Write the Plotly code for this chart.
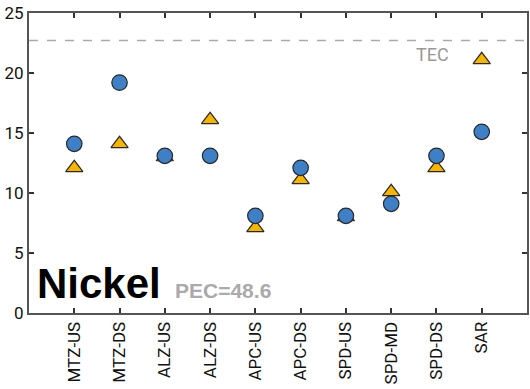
import plotly.graph_objects as go

sites = ["MTZ-US", "MTZ-DS", "ALZ-US", "ALZ-DS", "APC-US", "APC-DS", "SPD-US", "SPD-MD", "SPD-DS", "SAR"]
circle_vals = [14.1, 19.2, 13.1, 13.1, 8.1, 12.1, 8.1, 9.1, 13.1, 15.1]
triangle_vals = [12.1, 14.1, 13.0, 16.1, 7.1, 11.1, 8.0, 10.1, 12.1, 21.1]
tec_value = 22.7
element = "Nickel"
pec_label = "PEC=48.6"
y_ticks = [0, 5, 10, 15, 20, 25]

FONT = "Liberation Sans Narrow, Roboto, sans-serif"
xi = list(range(len(sites)))

fig = go.Figure()
fig.add_trace(go.Scatter(
    x=xi, y=triangle_vals, mode="markers",
    marker=dict(symbol="triangle-up", size=15, color="#F7B500",
                line=dict(color="#2a2a2a", width=1.2)),
    showlegend=False, cliponaxis=False))
fig.add_trace(go.Scatter(
    x=xi, y=circle_vals, mode="markers",
    marker=dict(symbol="circle", size=15.5, color="#3F7FC6",
                line=dict(color="#2a2a2a", width=1.2)),
    showlegend=False, cliponaxis=False))

fig.add_shape(type="line", xref="paper", x0=0, x1=1, yref="y", y0=tec_value, y1=tec_value,
              line=dict(color="#aaaaaa", width=1.5, dash="dash"))
fig.add_annotation(x=8, y=tec_value, xref="x", yref="y", text="TEC", showarrow=False,
                   xanchor="center", yanchor="top", yshift=-1, xshift=-4,
                   font=dict(family=FONT, size=18, color="#999999"))
fig.add_annotation(x=0.012, y=0.015, xref="paper", yref="paper", text="<b>" + element + "</b>",
                   showarrow=False, xanchor="left", yanchor="bottom",
                   font=dict(family="Liberation Sans, Arial, sans-serif", size=42, color="#000000"))
fig.add_annotation(x=0.29, y=0.03, xref="paper", yref="paper", text="<b>" + pec_label + "</b>",
                   showarrow=False, xanchor="left", yanchor="bottom",
                   font=dict(family="Liberation Sans, Arial, sans-serif", size=21, color="#aaaaaa"))

fig.update_xaxes(range=[-1, len(sites)], tickvals=xi, ticktext=sites, tickangle=-90,
                 showgrid=False, zeroline=False, showline=True, linecolor="#555555", linewidth=2,
                 mirror="ticks", ticks="inside", ticklen=5, tickcolor="#333333", tickwidth=1.5,
                 automargin=False,
                 tickfont=dict(family=FONT, size=17, color="#111111"))
fig.update_yaxes(range=[0, 25], tickvals=y_ticks, showgrid=False, zeroline=False,
                 showline=True, linecolor="#555555", linewidth=2, mirror="ticks",
                 ticks="inside", ticklen=5, tickcolor="#333333", tickwidth=1.5,
                 automargin=False,
                 tickfont=dict(family=FONT, size=17, color="#111111"))

fig.update_layout(width=530, height=389, margin=dict(l=29, r=3, t=13, b=76),
                  plot_bgcolor="white", paper_bgcolor="white")
fig.write_html("out.html", config={"displayModeBar": False},
               post_script="document.body.style.margin='0';document.body.style.overflow='hidden';")
